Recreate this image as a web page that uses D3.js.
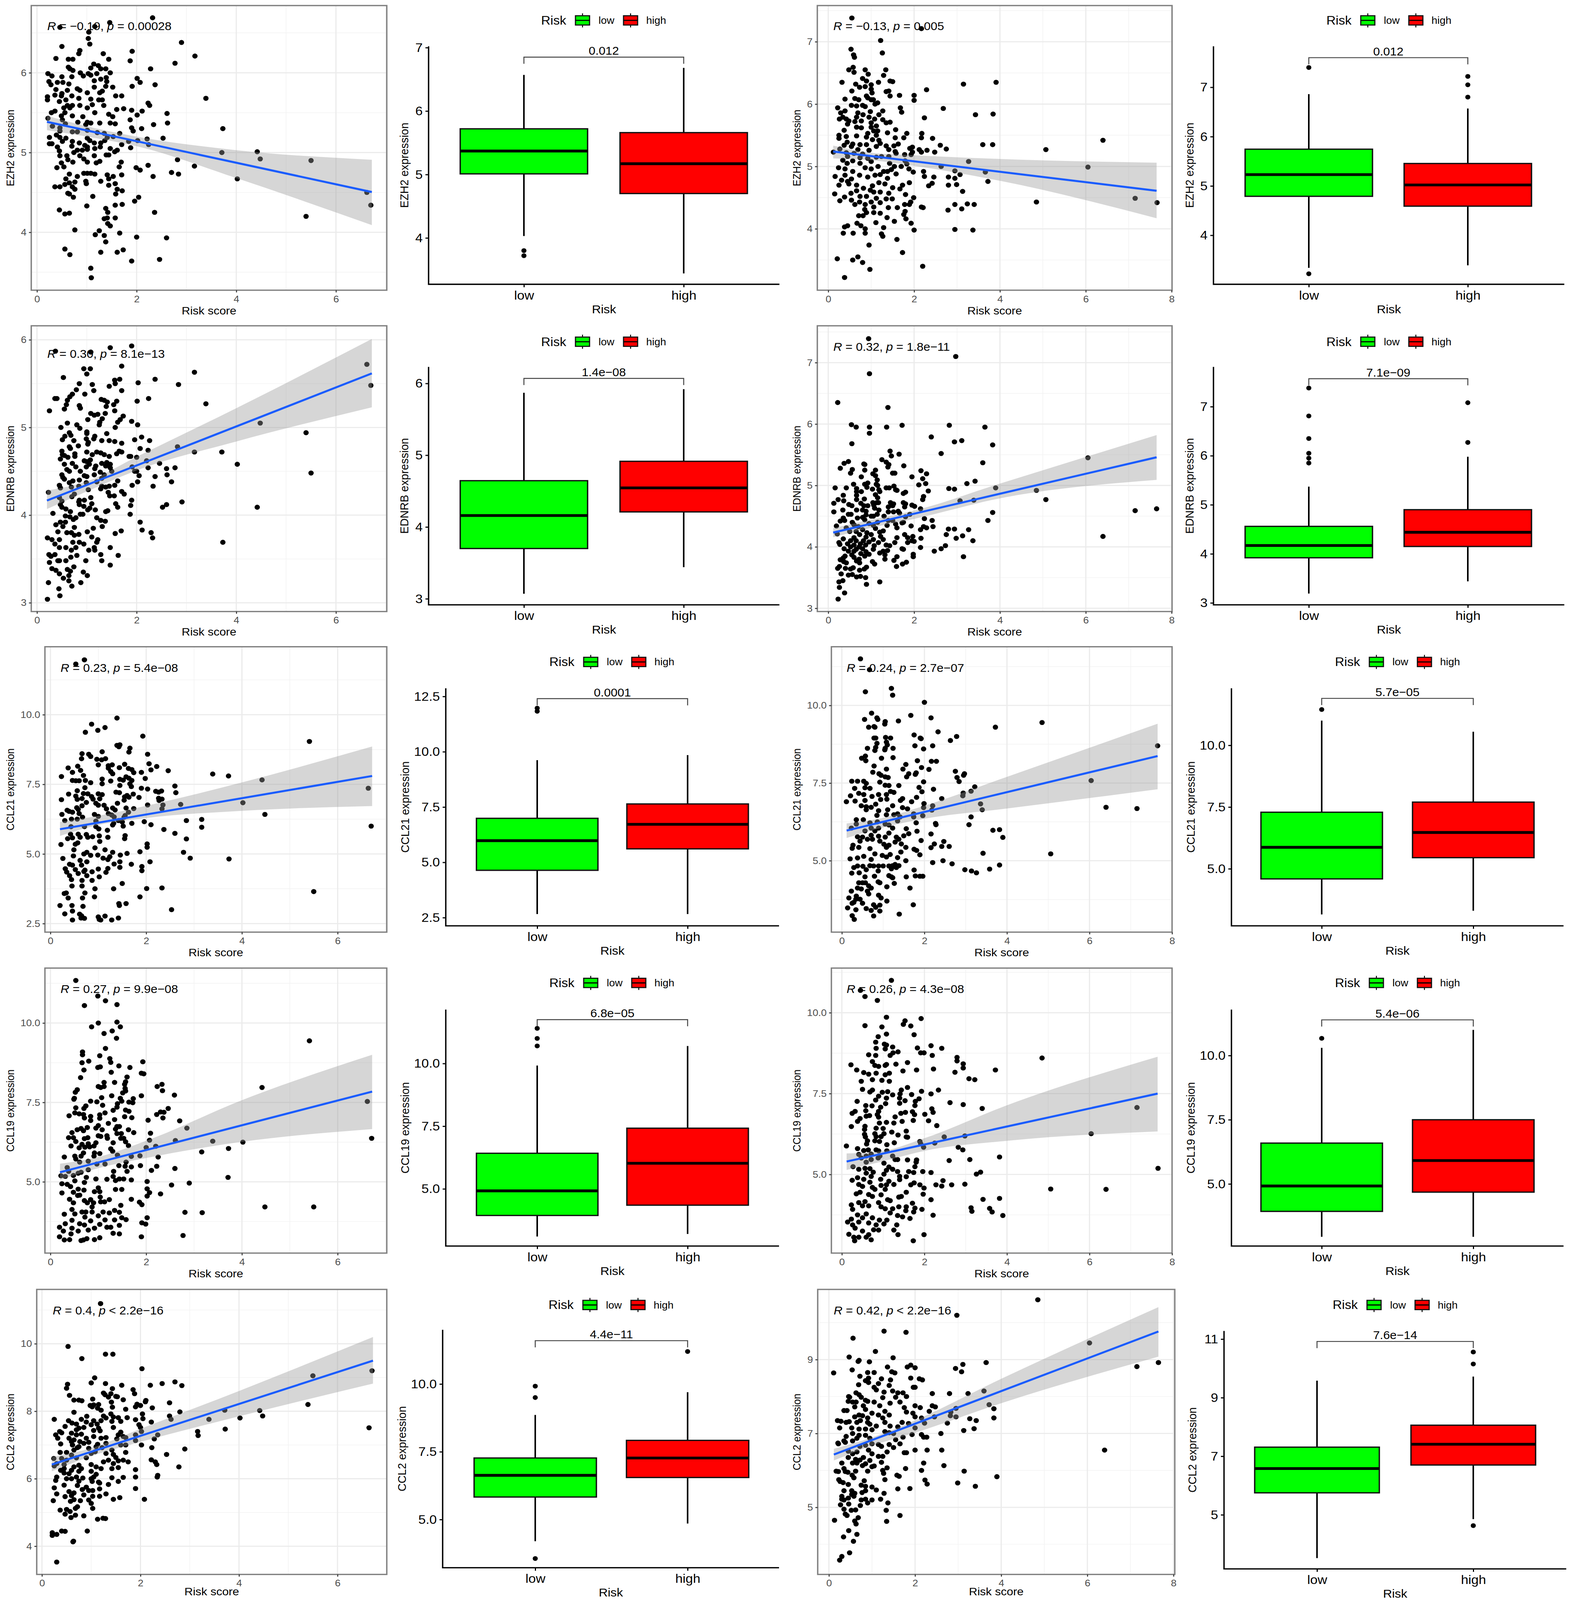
<!DOCTYPE html>
<html>
<head>
<meta charset="utf-8">
<script src="https://cdn.jsdelivr.net/npm/d3@7"></script>
<style>
  html, body { margin: 0; padding: 0; background: #fff; overflow: hidden; }
  svg { display: block; }
  text { font-family: "Liberation Sans", Arial, sans-serif; }
</style>
</head>
<body>
<svg id="fig" width="4016" height="4096" viewBox="0 0 4016 4317" preserveAspectRatio="none"></svg>
<script>
const riskLabels = ["low", "high"];
const trainCiX = [0.2, 1, 2, 4, 6.72];
const testCiX = [0.115, 1, 2, 4, 7.65];

const ezh2TrainPts = [[2.32,6.69],[1.46,6.63],[.46,6.57],[1.16,6.58],[1.04,6.51],[1.03,6.43],[1.06,6.36],[.5,6.33],[.86,6.28],[.84,6.24],[1.33,6.24],[1.91,6.27],[2.9,6.38],[3.17,6.21],[.38,6.18],[.63,6.17],[.72,6.17],[1.44,6.17],[1.87,6.15],[2.77,6.12],[1.14,6.11],[1.23,6.09],[2.28,6.05],[.63,6.07],[.66,6.05],[.72,6.03],[1.08,6.06],[1.28,6.05],[1.38,6.05],[1.47,6],[.22,5.99],[.3,5.96],[.87,6],[.93,5.96],[1.03,5.99],[1.2,5.99],[.5,5.95],[.7,5.95],[1.08,5.97],[1.39,5.94],[2.01,5.93],[1.28,5.92],[1.15,5.9],[1.4,5.89],[2.07,5.88],[.24,5.89],[.41,5.88],[.52,5.88],[.64,5.86],[.28,5.85],[2.37,5.85],[1.91,5.83],[1.15,5.82],[1.52,5.82],[1.38,5.83],[.38,5.79],[.81,5.8],[.61,5.78],[.86,5.78],[1.31,5.77],[.5,5.74],[1.01,5.75],[1.26,5.75],[.36,5.72],[.49,5.71],[.7,5.71],[1.58,5.71],[1.7,5.71],[.21,5.7],[.21,5.66],[.84,5.68],[1.08,5.67],[3.39,5.68],[.58,5.66],[.45,5.64],[1.24,5.66],[1.31,5.66],[2.23,5.62],[2.26,5.59],[1.11,5.6],[.61,5.59],[.71,5.59],[.86,5.59],[1.34,5.59],[.54,5.56],[.66,5.56],[1.01,5.56],[1.74,5.55],[1.6,5.54],[1.9,5.53],[2.11,5.52],[.36,5.52],[.29,5.5],[.56,5.5],[1.16,5.5],[2.61,5.49],[1.44,5.48],[2.01,5.47],[1.52,5.45],[.71,5.46],[.92,5.45],[.49,5.46],[.22,5.43],[.51,5.41],[1.87,5.41],[.82,5.38],[1.01,5.38],[1.08,5.37],[1.26,5.37],[1.47,5.37],[1.57,5.36],[2.62,5.37],[2.34,5.35],[.57,5.36],[.98,5.35],[.31,5.33],[1.9,5.31],[3.73,5.3],[2.1,5.3],[.46,5.31],[1.01,5.28],[1.93,5.27],[.46,5.27],[.71,5.26],[.81,5.26],[1.21,5.25],[1.35,5.24],[1.66,5.24],[.39,5.22],[.46,5.19],[.25,5.19],[.58,5.18],[1.01,5.18],[1.41,5.19],[1.53,5.2],[2.21,5.17],[2.53,5.18],[.51,5.14],[.71,5.14],[1.06,5.15],[1.36,5.15],[1.84,5.14],[2.02,5.15],[.25,5.11],[.3,5.11],[.85,5.12],[1.15,5.12],[1.28,5.12],[1.7,5.1],[2.24,5.1],[.7,5.08],[.41,5.07],[.96,5.09],[1.01,5.07],[1.27,5.07],[1.88,5.06],[1.16,5.05],[1.47,5.05],[1.61,5.03],[.81,5.03],[.91,5.03],[1.01,5.04],[.45,5.02],[4.42,5.01],[1.56,5.01],[3.71,5],[.74,5],[.46,4.96],[.6,4.96],[.86,4.96],[1.15,4.96],[1.39,4.97],[1.44,4.97],[4.48,4.92],[2.82,4.91],[5.5,4.9],[.62,4.91],[.72,4.88],[.94,4.92],[.49,4.87],[1.01,4.88],[1.26,4.89],[1.19,4.87],[1.69,4.88],[.4,4.81],[.54,4.82],[1.65,4.82],[2.23,4.84],[3.16,4.83],[1.99,4.81],[2.07,4.78],[2.7,4.75],[2.84,4.73],[.94,4.74],[1.01,4.74],[1.08,4.74],[1.16,4.73],[.65,4.73],[1.41,4.72],[1.7,4.72],[.81,4.7],[2.33,4.7],[1.53,4.7],[1.44,4.67],[4.02,4.67],[.58,4.67],[.98,4.64],[1.28,4.64],[.76,4.63],[.65,4.62],[.99,4.61],[1.57,4.61],[.36,4.57],[.46,4.57],[.56,4.6],[1.44,4.59],[.71,4.57],[.76,4.54],[1.61,4.54],[1.71,4.52],[6.62,4.5],[.62,4.49],[.65,4.48],[1.58,4.48],[2.04,4.44],[.73,4.44],[1.12,4.45],[1.96,4.39],[1.71,4.35],[6.7,4.34],[1,4.33],[1.57,4.34],[1.38,4.3],[.45,4.28],[1.42,4.25],[2.36,4.25],[.56,4.23],[.65,4.24],[5.4,4.2],[1.35,4.17],[1.41,4.18],[1.57,4.18],[1.42,4.11],[1.47,4.08],[.76,4.03],[1.25,4.02],[1.66,3.99],[1.17,3.97],[1.35,3.96],[2,3.94],[2.6,3.93],[1.38,3.88],[.56,3.79],[.66,3.72],[1.28,3.75],[1.73,3.78],[1.61,3.75],[2.46,3.66],[1.9,3.64],[1.08,3.55],[1.09,3.43]];

const ezh2TestPts = [[.55,7.38],[2.17,7.21],[1.22,7.02],[.53,6.88],[1.26,6.82],[.59,6.79],[.61,6.75],[.58,6.59],[.48,6.55],[.86,6.55],[1.34,6.55],[.6,6.51],[.93,6.48],[1.29,6.46],[.8,6.41],[.89,6.37],[1.44,6.37],[1.5,6.36],[.32,6.35],[1.17,6.35],[3.91,6.35],[3.15,6.32],[.64,6.32],[1,6.31],[.73,6.27],[.86,6.28],[1,6.24],[2.29,6.23],[.55,6.21],[1.35,6.2],[1.41,6.21],[1.02,6.18],[1.66,6.14],[2,6.14],[1.44,6.13],[.89,6.13],[.92,6.1],[.62,6.09],[2,6.06],[.71,6.07],[.39,6.08],[1,6.07],[1.05,6.07],[1.15,6.02],[1.09,6],[.54,5.98],[.66,5.97],[.8,5.98],[.86,5.96],[.22,5.94],[1.68,5.94],[2.68,5.93],[1.71,5.87],[.39,5.89],[1.27,5.89],[.98,5.88],[.29,5.86],[.69,5.86],[3.43,5.83],[3.84,5.84],[.81,5.83],[1.18,5.83],[.34,5.79],[.26,5.76],[.42,5.76],[2.24,5.78],[.66,5.79],[.95,5.79],[1.08,5.76],[1.27,5.75],[.48,5.73],[.62,5.72],[.77,5.73],[1,5.7],[1.44,5.71],[1.35,5.7],[.45,5.68],[1.12,5.65],[.66,5.63],[.77,5.62],[1,5.63],[1.57,5.59],[.37,5.58],[1.06,5.57],[1.15,5.57],[.92,5.53],[1.83,5.53],[2.18,5.53],[1.38,5.54],[.25,5.5],[1.12,5.5],[.66,5.49],[.42,5.48],[.89,5.47],[1.56,5.46],[1.76,5.46],[2.17,5.46],[2.43,5.45],[.25,5.45],[1.03,5.43],[1.18,5.42],[1.21,5.37],[.44,5.39],[.57,5.36],[.74,5.35],[.89,5.35],[1.63,5.36],[3.6,5.35],[3.83,5.35],[.37,5.34],[2.61,5.34],[1.12,5.32],[1.35,5.33],[1.53,5.33],[.54,5.32],[6.4,5.42],[5.07,5.27],[2.75,5.28],[1.96,5.31],[1.9,5.29],[.27,5.28],[2.12,5.27],[2.3,5.26],[1.41,5.27],[.69,5.27],[.95,5.26],[1.56,5.24],[.12,5.23],[1.96,5.23],[2.17,5.23],[2.48,5.23],[.42,5.22],[.6,5.21],[.8,5.2],[1.58,5.21],[1.93,5.19],[1.78,5.19],[.45,5.16],[1.12,5.15],[1.24,5.16],[1.41,5.16],[.74,5.14],[.92,5.13],[.34,5.1],[.57,5.09],[1.79,5.09],[3.27,5.08],[1,5.08],[.44,5.05],[1.43,5.05],[1.83,5.04],[.74,5.05],[2.63,5],[1.54,5],[1.7,5],[6.05,4.99],[.24,4.98],[1.16,5],[.86,4.98],[.39,4.96],[1.88,4.96],[1,4.96],[1.47,4.95],[2.95,4.93],[1.29,4.92],[1.38,4.92],[2.22,4.92],[1.98,4.91],[3.66,4.91],[.57,4.92],[1.58,4.88],[3.07,4.87],[.73,4.86],[.39,4.86],[1.09,4.86],[1.21,4.87],[.16,4.84],[2.24,4.84],[2.46,4.83],[2.8,4.83],[2.95,4.81],[.92,4.83],[1.38,4.81],[.54,4.8],[.31,4.78],[.45,4.76],[3.72,4.76],[1.18,4.74],[1.89,4.74],[2.42,4.73],[1.32,4.72],[.48,4.72],[2.8,4.7],[2.99,4.71],[.25,4.7],[1.73,4.7],[.66,4.7],[2.34,4.69],[1.03,4.69],[1.5,4.66],[.82,4.65],[1.67,4.64],[.98,4.62],[3.13,4.6],[.66,4.61],[1.21,4.59],[1.41,4.57],[.15,4.56],[.53,4.57],[1.8,4.55],[1.06,4.59],[.74,4.52],[.89,4.52],[.38,4.51],[1.99,4.5],[7.15,4.49],[1.12,4.49],[.54,4.46],[1.35,4.48],[1.49,4.48],[.27,4.45],[1,4.43],[4.85,4.43],[7.66,4.42],[1.92,4.43],[.73,4.43],[1.21,4.42],[1.78,4.39],[3.24,4.4],[3.4,4.39],[2.95,4.39],[1.89,4.39],[.62,4.39],[.86,4.39],[1.06,4.35],[2.17,4.35],[2.21,4.34],[1.61,4.34],[1.4,4.34],[3.11,4.32],[2.79,4.3],[.85,4.31],[1.79,4.28],[1.06,4.26],[1.21,4.25],[.89,4.26],[1.76,4.23],[.71,4.21],[.81,4.21],[1.37,4.18],[1.81,4.16],[1.54,4.12],[1.11,4.1],[.67,4.09],[1.93,4.09],[.76,4.05],[.45,4.05],[1.29,4.02],[.38,4.03],[.86,4],[2.95,3.99],[2,3.98],[3.37,3.98],[.86,3.93],[.35,3.93],[.58,3.93],[1.24,3.92],[1.27,3.88],[1.6,3.83],[.95,3.74],[1.73,3.62],[.69,3.55],[.21,3.52],[.57,3.5],[.8,3.46],[2.2,3.4],[.97,3.35],[.38,3.22]];

const ednrbTrainPts = [[1.9,5.93],[1.47,5.91],[.37,5.87],[1.08,5.86],[1.7,5.7],[.94,5.67],[1.07,5.67],[1,5.61],[3.16,5.63],[6.62,5.72],[6.7,5.48],[.53,5.57],[2.37,5.55],[1.66,5.55],[1.56,5.54],[2.03,5.51],[.85,5.5],[1.57,5.5],[2.84,5.49],[1.11,5.49],[1.45,5.47],[.79,5.43],[1.14,5.42],[1.7,5.42],[.71,5.38],[.96,5.38],[.66,5.35],[.36,5.33],[.4,5.33],[1.29,5.32],[2.24,5.33],[.61,5.31],[1.35,5.31],[1.41,5.29],[1.6,5.3],[2.01,5.3],[3.39,5.27],[.59,5.26],[1.54,5.26],[.85,5.25],[1.39,5.24],[.87,5.22],[.55,5.21],[1.56,5.19],[.25,5.19],[1.37,5.16],[1.08,5.16],[1.22,5.15],[1.15,5.14],[1.73,5.13],[1.67,5.09],[1.31,5.1],[1.02,5.09],[1.9,5.07],[1.62,5.06],[1.26,5.06],[1.25,5.03],[.61,5.05],[.8,5.03],[2.02,5.03],[4.48,5.05],[.48,5],[.86,4.99],[1.57,5],[1.0,4.95],[.65,4.94],[1.0,4.93],[.68,4.91],[1.4,4.93],[5.4,4.94],[.56,4.9],[1.16,4.9],[1.14,4.87],[2.1,4.89],[.99,4.87],[1.96,4.86],[.51,4.86],[.74,4.85],[1.3,4.85],[1.45,4.85],[1.56,4.84],[2.26,4.85],[1.03,4.83],[1.7,4.82],[1.02,4.81],[.83,4.79],[.65,4.78],[.67,4.76],[2.82,4.78],[2.07,4.76],[3.16,4.72],[3.71,4.72],[2.23,4.74],[1.0,4.72],[.5,4.73],[1.2,4.72],[1.28,4.71],[.76,4.7],[1.6,4.7],[1.7,4.72],[1.65,4.73],[1.11,4.69],[.51,4.69],[.55,4.68],[1.35,4.69],[1.45,4.67],[.62,4.66],[.76,4.67],[1.88,4.67],[2,4.66],[1.85,4.67],[.47,4.64],[.95,4.62],[1.0,4.61],[1.07,4.63],[2.2,4.62],[.71,4.59],[.55,4.58],[1.05,4.58],[1.3,4.59],[1.4,4.6],[1.47,4.58],[2.46,4.59],[4.02,4.58],[1.18,4.56],[.78,4.55],[.99,4.55],[1.38,4.56],[1.47,4.54],[1.91,4.55],[2.23,4.54],[2.77,4.54],[2.6,4.53],[1.16,4.53],[.6,4.52],[.87,4.5],[.65,4.5],[1.27,4.49],[1.5,4.5],[1.96,4.5],[2.0,4.5],[.5,4.46],[1.15,4.46],[1.35,4.46],[.95,4.45],[5.5,4.48],[2.05,4.45],[2.61,4.46],[1.0,4.44],[2.37,4.44],[.52,4.43],[1.3,4.42],[.55,4.41],[.72,4.39],[.85,4.4],[1.2,4.38],[1.62,4.39],[2.02,4.38],[2.7,4.38],[.65,4.37],[.99,4.37],[1.3,4.33],[1.45,4.33],[.45,4.34],[1.56,4.34],[1.91,4.34],[2.33,4.33],[.69,4.32],[.84,4.33],[1.28,4.3],[1.38,4.32],[1.03,4.29],[.47,4.31],[1.7,4.27],[1.43,4.26],[.75,4.24],[.23,4.26],[1.75,4.24],[1.46,4.22],[1.55,4.22],[.7,4.21],[.45,4.2],[1.08,4.2],[.85,4.17],[.5,4.16],[.95,4.17],[1.9,4.17],[.84,4.15],[2.91,4.15],[.47,4.12],[.85,4.12],[1.1,4.13],[1.58,4.13],[2.6,4.12],[1.88,4.11],[2.52,4.09],[.94,4.1],[1.06,4.08],[1.62,4.09],[4.42,4.09],[.5,4.09],[.58,4.07],[1.02,4.06],[1.17,4.06],[1.42,4.05],[1.38,4.04],[.67,4.04],[.32,4.02],[.87,4.01],[.92,4.01],[1.87,4.01],[.57,3.99],[.66,3.98],[.78,3.97],[1.2,3.97],[.73,3.95],[1.28,3.94],[1.37,3.93],[2.07,3.92],[.47,3.92],[.57,3.92],[.38,3.89],[1.31,3.87],[.52,3.87],[.75,3.86],[1.13,3.85],[2.11,3.83],[1.69,3.82],[1.01,3.81],[.42,3.81],[.6,3.8],[.69,3.8],[2.29,3.8],[1.57,3.79],[.84,3.78],[.75,3.77],[1.1,3.75],[.21,3.74],[2.32,3.74],[1.22,3.72],[.3,3.72],[.45,3.72],[3.73,3.69],[.85,3.69],[.72,3.69],[1.2,3.69],[.36,3.67],[.94,3.67],[.78,3.63],[.45,3.63],[.58,3.63],[1.15,3.63],[.69,3.6],[1.47,3.63],[1.04,3.6],[1.16,3.6],[1.28,3.55],[.24,3.55],[.36,3.55],[.28,3.53],[.8,3.54],[.68,3.52],[1.63,3.54],[.98,3.48],[.42,3.48],[.45,3.48],[.58,3.48],[1.3,3.48],[.25,3.46],[1.47,3.43],[.74,3.41],[.3,3.39],[.61,3.38],[.38,3.37],[.67,3.36],[.93,3.35],[.45,3.33],[1.01,3.31],[.64,3.31],[.53,3.28],[.64,3.25],[.88,3.23],[.23,3.23],[.7,3.19],[.44,3.16],[.46,3.08],[.21,3.04]];

const ednrbTestPts = [[.94,7.39],[2.97,7.1],[.96,6.82],[.22,6.35],[1.39,6.27],[.54,5.99],[.65,5.95],[.96,5.95],[1.36,5.95],[1.72,5.98],[2.82,5.98],[3.65,5.95],[.96,5.85],[2.4,5.79],[3.11,5.73],[2.94,5.71],[.55,5.68],[3.83,5.66],[1.44,5.56],[1.65,5.51],[2.63,5.52],[1.47,5.48],[6.05,5.45],[1.25,5.42],[1.35,5.38],[.47,5.39],[.37,5.36],[.83,5.35],[.85,5.34],[3.6,5.37],[1.41,5.34],[1.76,5.32],[1.39,5.3],[.28,5.28],[.56,5.26],[.85,5.25],[1.1,5.25],[2.16,5.24],[.52,5.2],[1.5,5.2],[1.55,5.2],[1.04,5.19],[2.29,5.19],[1.1,5.16],[1.95,5.14],[.77,5.14],[2.2,5.11],[1.14,5.09],[3.42,5.07],[2.11,5.01],[3.23,5.03],[2.27,5.03],[.59,5.02],[.85,5.02],[.92,5.04],[1.12,5.02],[1.15,5],[.9,4.97],[1.53,4.99],[.16,4.96],[.42,4.96],[.66,4.95],[1.35,4.96],[1.42,4.96],[1.57,4.93],[1.6,4.92],[2.81,4.95],[2.94,4.94],[3.9,4.96],[1.18,4.93],[1.03,4.94],[.66,4.9],[.77,4.9],[1.2,4.9],[1.75,4.87],[1.8,4.89],[.35,4.84],[.66,4.84],[1.1,4.85],[2.33,4.91],[4.85,4.92],[1.15,4.8],[.23,4.77],[.36,4.75],[.66,4.77],[.84,4.78],[5.07,4.77],[3.07,4.75],[3.39,4.76],[2.2,4.77],[2.22,4.82],[.13,4.71],[.48,4.69],[.76,4.71],[1.04,4.72],[1.13,4.72],[1.17,4.72],[1.45,4.72],[1.52,4.7],[1.75,4.72],[1.8,4.7],[1.95,4.68],[.55,4.67],[.83,4.67],[.92,4.67],[1.06,4.68],[1.4,4.65],[1.5,4.67],[1.78,4.65],[2.01,4.66],[.13,4.57],[.34,4.6],[.66,4.6],[.8,4.6],[.88,4.58],[1.08,4.63],[1.18,4.6],[1.4,4.57],[1.52,4.57],[1.63,4.58],[1.66,4.55],[2.15,4.62],[.47,4.53],[.53,4.53],[.88,4.52],[1.14,4.53],[1.9,4.53],[3.83,4.56],[7.15,4.59],[7.65,4.62],[.35,4.47],[.68,4.47],[.8,4.48],[1.0,4.5],[1.05,4.5],[1.3,4.5],[1.8,4.49],[2.24,4.46],[.38,4.43],[.56,4.4],[.28,4.42],[.85,4.44],[1.4,4.43],[1.5,4.43],[1.75,4.4],[2.42,4.43],[3.72,4.43],[.6,4.36],[.7,4.33],[.95,4.38],[1.05,4.35],[1.15,4.4],[1.37,4.35],[1.57,4.37],[1.72,4.39],[1.93,4.34],[2.44,4.33],[2.22,4.33],[2.29,4.31],[.19,4.34],[.42,4.31],[.8,4.28],[1.1,4.3],[1.6,4.31],[2.15,4.28],[2.8,4.29],[2.94,4.29],[3.27,4.28],[.65,4.25],[.9,4.23],[1.28,4.26],[1.2,4.24],[.21,4.21],[.5,4.25],[1.0,4.2],[.73,4.2],[1.78,4.2],[1.85,4.15],[2.75,4.2],[3.13,4.18],[1.97,4.17],[.35,4.13],[.6,4.15],[.88,4.16],[1.22,4.17],[1.6,4.15],[2.16,4.14],[6.4,4.17],[2.98,4.14],[.52,4.1],[.65,4.1],[.82,4.1],[1.05,4.12],[1.28,4.12],[1.85,4.07],[1.95,4.1],[2,4.09],[3.37,4.1],[.25,4.07],[.45,4.05],[.75,4.05],[.95,4.08],[1.17,4.07],[1.55,4.07],[.27,4.04],[.6,4.03],[1.35,4.03],[1.43,4.02],[.52,4],[.72,4],[.87,4.03],[1.07,4.02],[2.15,3.99],[2.63,3.97],[2.73,4.02],[.37,3.97],[.65,3.96],[.8,3.97],[1.05,3.96],[1.72,3.97],[1.75,3.96],[.47,3.93],[.6,3.93],[.88,3.92],[1.28,3.93],[1.38,3.94],[2.47,3.93],[.76,3.89],[.95,3.88],[1.2,3.9],[1.32,3.87],[.39,3.85],[.55,3.87],[.85,3.85],[1.98,3.88],[1.6,3.84],[3.15,3.84],[1.98,3.84],[.35,3.82],[.6,3.83],[1.32,3.8],[.72,3.8],[.28,3.79],[.36,3.76],[1.53,3.78],[.66,3.77],[.42,3.74],[1.03,3.76],[.73,3.74],[1.82,3.75],[1.08,3.72],[1.73,3.72],[.26,3.68],[.22,3.65],[.4,3.65],[.52,3.64],[.58,3.66],[.84,3.64],[.89,3.67],[1.59,3.68],[.73,3.62],[.3,3.56],[.47,3.54],[.56,3.55],[.66,3.51],[.75,3.52],[.87,3.5],[.34,3.45],[.25,3.43],[1.2,3.43],[.89,3.39],[.26,3.34],[.38,3.25],[.23,3.15]];

const ccl21TrainPts = [[.71,11.97],[.53,11.82],[1.39,9.88],[.86,9.66],[1.14,9.54],[.99,9.44],[.73,9.37],[1.93,9.23],[5.41,9.04],[1.39,8.9],[1.43,8.85],[1.45,8.92],[1.66,8.8],[1.64,8.66],[1.08,8.67],[.66,8.6],[.8,8.58],[2.03,8.58],[.84,8.5],[.65,8.42],[.97,8.4],[1.15,8.42],[1.07,8.38],[2.06,8.24],[1.29,8.2],[1.0,8.2],[1.55,8.22],[1.21,8.17],[.57,8.15],[1.44,8.1],[.37,8.09],[2.22,8.14],[1.63,8.07],[1.21,8.08],[1.7,8.03],[2.1,8.02],[.63,8],[2.46,7.99],[1.26,7.96],[.46,7.93],[1.74,7.92],[1.9,7.93],[1.3,7.88],[3.39,7.87],[.69,7.82],[3.72,7.8],[.23,7.78],[1.58,7.77],[1.64,7.72],[1.98,7.71],[1.08,7.69],[.46,7.64],[.53,7.63],[.6,7.63],[.73,7.64],[1.26,7.62],[1.45,7.68],[1.52,7.65],[1.7,7.64],[4.42,7.66],[.84,7.56],[1.08,7.52],[1.66,7.52],[1.45,7.46],[2.6,7.44],[.72,7.38],[1.69,7.42],[1.9,7.36],[2.03,7.33],[6.64,7.36],[.56,7.27],[2.32,7.26],[2.2,7.25],[2.26,7.22],[1.37,7.22],[.78,7.16],[.38,7.15],[.69,7.17],[1.0,7.16],[1.08,7.13],[1.44,7.2],[1.6,7.1],[1.73,7.15],[2.62,7.2],[.53,7.08],[.86,7.06],[1.55,7.05],[1.64,7.04],[.56,6.96],[.23,6.95],[.66,6.99],[.89,6.97],[1.03,6.98],[1.85,7.03],[2.26,7.0],[1.54,6.93],[2.33,6.97],[.75,6.85],[.95,6.82],[1.4,6.82],[2.27,6.92],[1.12,6.75],[2.35,6.76],[2.72,6.78],[2.03,6.76],[4.02,6.84],[1.0,6.75],[.66,6.73],[.55,6.66],[.35,6.57],[1.3,6.65],[1.17,6.62],[1.35,6.58],[1.58,6.65],[1.74,6.63],[2.33,6.62],[.39,6.53],[.58,6.6],[.46,6.5],[1.63,6.5],[1.21,6.45],[1.28,6.4],[.6,6.45],[4.48,6.42],[1.56,6.38],[.24,6.42],[.92,6.42],[1.0,6.35],[1.33,6.33],[.67,6.32],[1.54,6.32],[.44,6.25],[.56,6.25],[.3,6.2],[2.84,6.2],[3.16,6.24],[.95,6.18],[1.42,6.2],[1.96,6.16],[1.5,6.15],[1.32,6.1],[1.7,6.1],[2.1,6.05],[1.3,6.04],[.43,5.98],[.71,5.98],[.95,5.98],[1.52,6.0],[3.16,5.96],[6.7,6.0],[1.01,5.9],[2.37,5.88],[1.19,5.85],[.42,5.71],[.58,5.71],[.75,5.7],[1.02,5.65],[1.56,5.66],[2.6,5.74],[.36,5.55],[.46,5.58],[.62,5.6],[.78,5.6],[.88,5.62],[1.2,5.6],[1.55,5.55],[2.84,5.54],[.57,5.4],[1.03,5.45],[.22,5.34],[.52,5.35],[2.02,5.36],[2.02,5.24],[.93,5.22],[.49,5.15],[1.14,5.15],[.76,5.06],[1.3,5.06],[1.87,5.08],[2.78,5.06],[1.6,5.02],[.7,5],[.48,4.93],[.99,4.96],[1.24,4.9],[1.46,4.96],[.26,4.84],[.84,4.95],[1.1,4.85],[2.92,4.85],[3.73,4.82],[.62,4.77],[1.2,4.8],[.76,4.72],[.4,4.63],[1.33,4.64],[1.45,4.72],[1.69,4.63],[2.08,4.72],[.46,4.6],[.65,4.6],[.72,4.42],[1.2,4.48],[1.45,4.52],[.31,4.47],[.52,4.44],[1.0,4.46],[1.91,4.55],[1.91,4.4],[.34,4.35],[.7,4.37],[.87,4.36],[1.16,4.34],[.58,4.3],[.76,4.22],[.4,4.22],[1.02,4.18],[.44,4.08],[.66,4.05],[.87,4.05],[1.5,3.94],[.45,3.85],[.66,3.85],[.93,3.75],[1.32,3.75],[2.01,3.76],[2.33,3.78],[.33,3.6],[.29,3.58],[.72,3.6],[1.87,3.46],[.92,3.46],[.37,3.42],[.67,3.42],[1.43,3.22],[1.44,3.15],[1.58,3.22],[.2,3.15],[.45,3.15],[.68,3.12],[5.5,3.65],[2.53,3.0],[.46,2.95],[.3,2.85],[.61,2.84],[.65,2.78],[.64,2.7],[.71,2.69],[1.0,2.74],[1.14,2.77],[1.42,2.7],[.46,2.63],[1.02,2.65],[1.05,2.63],[1.28,2.63]];

const ccl21TestPts = [[.45,11.5],[.67,11.15],[1.2,10.55],[.57,10.44],[1.23,10.33],[2.0,10.1],[.72,9.75],[.85,9.6],[.87,9.55],[.55,9.55],[1.05,9.48],[1.37,9.5],[1.67,9.68],[2.16,9.6],[4.85,9.45],[.65,9.3],[.78,9.32],[.8,9.3],[1.04,9.4],[3.72,9.3],[2.33,9.15],[1.75,9.05],[2.78,9.0],[1.9,8.95],[1.92,8.93],[.78,8.95],[.82,8.95],[1.06,8.97],[1.18,8.95],[2.63,8.87],[1.08,8.82],[.85,8.78],[1.1,8.73],[1.77,8.7],[2.2,8.7],[7.65,8.7],[.82,8.65],[1.24,8.62],[1.98,8.6],[.62,8.62],[1.05,8.62],[.8,8.55],[1.04,8.57],[.57,8.37],[1.24,8.32],[.48,8.3],[.96,8.3],[.58,8.22],[1.83,8.22],[2.17,8.2],[2.29,8.2],[.78,8.05],[1.55,8.1],[1.93,8.0],[1.08,7.95],[1.48,7.95],[2.11,7.94],[2.75,7.88],[.75,7.85],[.9,7.8],[1.8,7.83],[1.78,7.78],[1.62,7.8],[1.57,7.7],[2.97,7.8],[2.95,7.75],[.95,7.75],[1.05,7.7],[1.12,7.68],[2.79,7.68],[2.84,7.55],[.24,7.56],[.38,7.56],[.53,7.56],[6.04,7.58],[.59,7.49],[.31,7.33],[.56,7.35],[.68,7.33],[.92,7.53],[1.05,7.43],[1.14,7.42],[1.38,7.42],[1.98,7.54],[1.87,7.36],[2.22,7.3],[1.94,7.22],[3.22,7.38],[3.13,7.24],[2.94,7.18],[2.93,7.09],[.21,7.09],[.41,7.17],[.53,7.13],[.73,7.07],[.89,7.13],[1.08,7.13],[1.26,7.2],[1.18,7.23],[1.81,7.04],[.32,6.92],[.11,6.9],[.56,6.94],[1.09,6.98],[.94,6.97],[1.42,6.94],[1.47,7.0],[1.69,6.9],[2.42,7.0],[1.99,6.84],[3.36,6.83],[.47,6.77],[.59,6.74],[.71,6.72],[.82,6.82],[1.23,6.77],[1.47,6.71],[1.98,6.71],[2.2,6.77],[2.18,6.63],[3.4,6.64],[6.4,6.72],[7.15,6.68],[.59,6.64],[.89,6.61],[1.11,6.64],[1.59,6.67],[1.35,6.51],[1.08,6.48],[.85,6.46],[1.74,6.51],[3.13,6.41],[1.74,6.41],[1.41,6.41],[1.26,6.48],[1.96,6.45],[.35,6.32],[.52,6.32],[.68,6.22],[1.35,6.28],[1.8,6.22],[.35,6.18],[.86,6.25],[1.05,6.18],[1.14,6.15],[2.27,6.2],[2.28,6.16],[3.08,6.16],[.23,6.05],[1.23,6.05],[1.56,6.03],[.71,6.05],[.89,6.05],[.56,5.96],[.8,5.96],[1.82,5.95],[3.66,5.98],[3.82,6.0],[2.16,5.86],[1.14,5.89],[1.62,5.87],[1.5,5.8],[.38,5.77],[.71,5.82],[.89,5.79],[1.05,5.76],[.5,5.76],[3.9,5.75],[1.32,5.76],[.62,5.69],[.74,5.69],[1.38,5.69],[1.92,5.65],[.44,5.63],[.92,5.63],[2.47,5.62],[1.29,5.6],[1.44,5.54],[2.24,5.54],[1.02,5.53],[1.14,5.5],[.27,5.5],[2.42,5.46],[2.6,5.46],[1.55,5.43],[2.16,5.42],[.41,5.43],[.25,5.4],[.68,5.39],[1.08,5.43],[1.75,5.37],[1.81,5.33],[1.43,5.28],[3.42,5.24],[5.06,5.22],[.8,5.22],[.98,5.17],[1.17,5.2],[1.89,5.19],[.2,5.06],[.38,5.09],[.53,5.14],[.71,5.04],[1.08,5.12],[1.35,5.1],[1.55,5],[2.45,5],[2.67,4.9],[2.2,4.94],[2.98,4.71],[3.14,4.67],[3.26,4.61],[3.58,4.73],[3.82,4.86],[1.75,4.7],[1.78,4.51],[1.89,4.5],[1.96,4.5],[1.56,4.48],[1.65,4.12],[1.73,3.58],[1.39,3.28],[1.09,4.16],[1.09,3.7],[1.27,4.27],[1.2,4.48],[1.14,4.52],[1.23,4.45],[.88,4.67],[.79,4.5],[.88,4.32],[.92,4.29],[.24,4.6],[.29,4.78],[.38,4.83],[.42,4.61],[.51,4.82],[.59,4.71],[.68,4.84],[.77,4.83],[.89,4.83],[1,4.83],[1.14,4.83],[1.23,4.84],[1.29,4.88],[1.38,4.84],[1.2,4.74],[1.32,4.78],[.56,4.48],[.5,4.29],[.41,4.29],[.57,4.29],[.65,4.19],[.71,4.12],[.62,4.02],[.65,3.93],[.47,4.09],[.38,4.12],[.23,4.02],[.17,3.8],[.35,3.86],[.25,3.63],[.34,3.76],[.44,3.76],[.5,3.63],[.29,3.66],[.14,3.48],[.34,3.42],[.59,3.46],[.71,3.4],[.77,3.58],[.82,3.5],[.92,3.57],[.92,3.38],[.89,3.89],[.95,3.8],[.77,3.22],[.25,3.23],[.3,3.11]];

const ccl19TrainPts = [[.53,11.34],[.99,10.85],[1.15,10.7],[1.39,10.58],[.71,10.55],[1.39,10.03],[1,10],[.86,9.88],[1.46,9.88],[1.29,9.75],[1.12,9.67],[1.38,9.52],[5.41,9.44],[1.15,9.2],[.67,9.09],[.67,9],[1.03,8.97],[1.24,8.88],[.66,8.75],[.8,8.8],[1.93,8.78],[1.26,8.76],[1.43,8.65],[.99,8.6],[1.04,8.62],[1.66,8.6],[.7,8.52],[1.27,8.45],[.63,8.28],[1.9,8.42],[1.95,8.4],[1.6,8.3],[1.57,8.15],[1.12,8.13],[1.34,8.13],[2.33,8.07],[2.23,8],[.56,7.9],[2.34,7.87],[.52,7.82],[1.51,7.8],[4.42,7.97],[1,8],[1.05,7.97],[1.12,8],[1.55,8.07],[1.56,7.94],[1.57,7.86],[2.59,7.73],[1.9,7.71],[1.28,7.71],[1.73,7.62],[1.46,7.63],[1.07,7.65],[.5,7.63],[.49,7.6],[.84,7.54],[.97,7.52],[1.49,7.54],[1.64,7.51],[1.72,7.49],[1.4,7.46],[1.09,7.41],[.74,7.39],[.7,7.31],[.53,7.33],[1.39,7.35],[1.31,7.25],[2.46,7.31],[1.57,7.26],[1.64,7.22],[.51,7.17],[.6,7.14],[1.14,7.17],[1.03,7.11],[2.22,7.12],[2.3,7.2],[2.37,7.19],[2.35,7.01],[.39,7.08],[.69,7.12],[1.55,7.05],[1.7,7.02],[.71,7.01],[.84,7.06],[1.03,7],[.84,6.93],[1.34,6.96],[2.04,6.94],[2.7,6.92],[1,6.77],[1.21,6.84],[.77,6.71],[.95,6.69],[1.08,6.64],[1.39,6.74],[1.36,6.66],[1.44,6.74],[1.63,6.64],[2.85,6.69],[.45,6.55],[.56,6.64],[.64,6.68],[.69,6.61],[1.39,6.52],[1.48,6.52],[1.74,6.55],[2.09,6.53],[.38,6.39],[.48,6.39],[.71,6.36],[.78,6.39],[1,6.45],[1.05,6.43],[1.18,6.45],[1.19,6.37],[1.47,6.37],[1.53,6.37],[.53,6.27],[2.07,6.31],[1.57,6.26],[3.39,6.28],[2.61,6.3],[4.02,6.25],[1.31,6.23],[.95,6.23],[.66,6.18],[.79,6.2],[.43,6.13],[1.63,6.14],[.72,6.09],[.82,6.1],[.91,6.13],[.6,6.07],[2,6.08],[2.2,6.12],[1.26,6.04],[1.3,5.96],[3.72,6.05],[3.16,5.94],[.92,5.91],[1.03,5.89],[.69,5.91],[.91,5.81],[.64,5.81],[1.4,5.84],[.51,5.81],[.29,5.78],[1.69,5.8],[1.87,5.82],[2.25,5.78],[.53,5.72],[.79,5.65],[.61,5.62],[1.58,5.62],[.97,5.56],[1.14,5.56],[1.43,5.51],[1.88,5.51],[2.22,5.49],[1.56,5.49],[1.69,5.47],[.35,5.45],[.79,5.38],[2.6,5.42],[2.11,5.36],[1.32,5.33],[1.6,5.33],[.38,5.33],[.64,5.3],[.22,5.19],[.31,5.17],[.48,5.2],[.58,5.27],[.75,5.14],[1.31,5.17],[3.71,5.14],[.95,5.09],[1.18,5.08],[1.36,5.04],[1.44,5.09],[1.53,5.09],[1.69,5.06],[2.02,5.01],[.51,5.03],[.71,4.98],[.24,4.94],[.35,4.92],[2.9,4.96],[2.53,4.9],[.42,4.85],[2.02,4.78],[.58,4.77],[1.36,4.76],[1.49,4.76],[.7,4.74],[1,4.81],[.92,4.69],[1.03,4.69],[.48,4.67],[.24,4.65],[2.07,4.66],[2.3,4.62],[2.02,4.55],[.61,4.58],[.57,4.57],[1.04,4.52],[.4,4.45],[1.69,4.45],[1.23,4.44],[.71,4.41],[.84,4.44],[.48,4.34],[.77,4.34],[.9,4.34],[1.05,4.37],[1.13,4.37],[1.86,4.36],[1.91,4.28],[1.47,4.26],[.87,4.21],[4.48,4.21],[5.5,4.21],[.45,4.13],[1.34,4.1],[.66,4.05],[.74,4.05],[.87,4.05],[1.1,4.05],[1.23,4.02],[1.44,4.04],[2.81,4.04],[3.17,4.03],[.29,3.98],[.51,3.99],[1,3.93],[.72,3.89],[1.49,3.87],[1.58,3.81],[2.02,3.87],[.84,3.77],[1.14,3.8],[1.34,3.8],[.45,3.79],[.61,3.68],[.31,3.68],[1.03,3.66],[1.91,3.71],[1.99,3.67],[.71,3.64],[1.18,3.57],[1.44,3.63],[.45,3.54],[.19,3.57],[.27,3.45],[.92,3.54],[1.26,3.57],[.58,3.45],[.79,3.48],[.43,3.36],[1.31,3.38],[1.44,3.36],[.19,3.27],[1.9,3.27],[2.77,3.31],[1.03,3.24],[.76,3.21],[.92,3.18],[.29,3.17],[.4,3.18],[.64,3.15],[.69,3.17],[6.62,7.53],[6.71,6.37]];

const ccl19TestPts = [[1.2,11],[.45,10.69],[.56,10.5],[.86,10.38],[1.08,9.86],[1.92,9.82],[1.53,9.75],[1.49,9.64],[1.67,9.59],[.56,9.6],[.97,9.56],[1.08,9.34],[1.75,9.32],[.88,9.26],[.82,9.09],[1.03,9.03],[1.08,9],[1.23,8.94],[.83,8.9],[1.05,8.88],[2.16,8.98],[2.42,8.9],[1.83,8.91],[1.36,8.79],[1.91,8.76],[1.99,8.76],[2.19,8.68],[.65,8.7],[.82,8.68],[1.17,8.68],[1.24,8.76],[.74,8.49],[.8,8.37],[.89,8.34],[1.08,8.4],[4.85,8.6],[2.79,8.62],[2.79,8.51],[2.94,8.42],[2.94,8.29],[2.74,8.16],[3.08,7.96],[3.22,7.93],[3.72,8.23],[2.22,8.26],[1.81,8.23],[1.48,8.2],[1.59,8.46],[1.31,8.41],[1.05,8.37],[.22,8.39],[.36,8.23],[.53,8.15],[.65,8.1],[.83,8.13],[1.05,8.08],[1.15,8.13],[.47,7.88],[.74,7.93],[.97,7.91],[1.15,7.88],[2.34,7.61],[1.93,7.57],[1.59,7.69],[1.44,7.61],[1.41,7.49],[1.69,7.47],[2.16,7.49],[1.11,7.56],[.98,7.54],[.5,7.63],[.74,7.61],[.68,7.55],[1.23,7.46],[.89,7.42],[1.4,7.36],[1.08,7.36],[.82,7.3],[1.87,7.34],[1.53,7.28],[.37,7.26],[1.78,7.26],[1.4,7.2],[2.62,7.22],[2.94,7.16],[1.06,7.19],[1.77,7.13],[.58,7.13],[.73,7.12],[.94,7.08],[7.15,7.07],[3.4,7.04],[2.18,7.03],[.58,6.97],[.32,6.95],[.25,6.89],[.89,6.95],[1.43,6.89],[1.54,6.92],[1.71,6.94],[2.21,6.92],[.86,6.85],[2.01,6.86],[.59,6.8],[.67,6.82],[.44,6.73],[1.76,6.85],[1.29,6.78],[.89,6.77],[1.46,6.64],[1.73,6.67],[2.1,6.66],[.38,6.64],[1.08,6.61],[.91,6.59],[1.26,6.59],[.23,6.48],[2.3,6.51],[.56,6.49],[1,6.42],[.83,6.43],[1.21,6.31],[1.56,6.34],[.55,6.39],[6.04,6.26],[.55,6.24],[.8,6.26],[1.02,6.26],[1.36,6.22],[.57,6.16],[.83,6.17],[.95,6.17],[2.48,6.16],[2.98,6.19],[1.56,6.16],[1.59,6.15],[.62,6.04],[.8,6.04],[.91,6.02],[1.89,6.02],[1.91,5.95],[1.27,5.98],[2.25,5.97],[1.09,5.92],[.6,5.94],[.11,5.88],[.38,5.8],[1.98,5.84],[2.82,5.84],[2.93,5.76],[.53,5.74],[.64,5.76],[.83,5.76],[.89,5.73],[1.09,5.73],[.71,5.63],[.41,5.62],[.92,5.57],[.47,5.51],[.59,5.57],[1.23,5.57],[3.82,5.54],[.71,5.46],[.88,5.51],[1.29,5.46],[1.59,5.45],[1.81,5.45],[1.35,5.46],[3.1,5.46],[2.6,5.43],[.59,5.38],[1.8,5.38],[1.02,5.35],[.27,5.24],[1.77,5.24],[1.14,5.23],[.41,5.16],[.56,5.19],[.68,5.18],[1.08,5.13],[1.23,5.16],[7.66,5.19],[1.35,5.09],[.76,5.07],[1.62,5.09],[1.74,5.06],[1.96,5.09],[2.16,5.06],[3.36,5.07],[3.26,5.01],[1.02,5.01],[.59,5.04],[.71,4.94],[1.4,4.94],[1.56,4.93],[.38,4.9],[.53,4.85],[.94,4.85],[.25,4.82],[1.4,4.84],[2.45,4.81],[.68,4.76],[1.14,4.79],[1.67,4.68],[1.75,4.74],[1.89,4.68],[2.28,4.68],[2.42,4.64],[2.66,4.68],[2.98,4.7],[.41,4.69],[.5,4.63],[.95,4.66],[1.08,4.68],[1.26,4.69],[.74,4.6],[.8,4.54],[1.05,4.54],[1.99,4.58],[5.06,4.55],[6.4,4.54],[.44,4.45],[1.56,4.45],[.35,4.4],[.65,4.38],[.95,4.37],[1.97,4.39],[.74,4.32],[1.38,4.3],[1.44,4.32],[2.16,4.22],[3.42,4.23],[3.82,4.26],[1.11,4.22],[1.17,4.19],[.23,4.06],[.41,4.13],[.56,4.16],[.89,4.13],[1.71,4.11],[.5,4.03],[.65,4.03],[.95,4],[1.38,4],[1.56,4],[3.13,3.97],[.26,3.92],[1.05,3.94],[1.23,3.94],[1.77,3.96],[1.94,3.92],[3.58,3.95],[3.15,3.86],[3.64,3.84],[1.55,3.88],[1.74,3.84],[1.17,3.81],[.38,3.75],[.59,3.78],[1.35,3.73],[2.21,3.74],[3.9,3.73],[1.47,3.69],[.5,3.66],[.74,3.66],[1.65,3.64],[.23,3.62],[.91,3.59],[1.09,3.59],[.14,3.53],[.41,3.53],[.65,3.5],[1.02,3.47],[.26,3.44],[1.33,3.44],[.83,3.44],[.32,3.34],[.5,3.25],[.77,3.29],[.89,3.28],[1.26,3.28],[.17,3.15],[1.36,3.14],[1.99,3.14],[.41,3.06],[.65,3.14],[.59,3.06],[.29,3.06],[.71,2.98],[.31,2.95],[1.73,2.95]];

const ccl2TrainPts = [[1.19,11.19],[.53,9.92],[1.29,9.69],[1.44,9.69],[.81,9.56],[2.03,9.26],[5.5,9.05],[6.7,9.2],[1.07,8.99],[1,8.84],[.52,8.8],[1.29,8.82],[1.62,8.77],[2.44,8.82],[2.7,8.87],[2.84,8.76],[2.2,8.77],[.5,8.68],[1.43,8.67],[1.85,8.64],[1.88,8.52],[1.25,8.54],[1.4,8.52],[.56,8.47],[1.5,8.44],[1.28,8.49],[1.35,8.42],[1.53,8.43],[1.03,8.36],[.65,8.33],[.75,8.33],[.81,8.31],[1.65,8.34],[2.11,8.32],[2.1,8.28],[2.59,8.25],[1.41,8.27],[1.93,8.21],[.98,8.17],[1.05,8.19],[1.15,8.2],[1.02,8.13],[1.43,8.12],[1.9,8.13],[2.0,8.17],[5.4,8.2],[1.13,8.09],[2.24,8.1],[1.7,8.06],[1.2,8.03],[.65,7.97],[2.8,7.98],[3.71,8.03],[4.42,8.02],[1.4,7.92],[2.04,7.92],[1.45,7.83],[.91,7.85],[1.25,7.86],[1.3,7.8],[1.55,7.81],[1.73,7.81],[2.59,7.86],[4.48,7.86],[.25,7.76],[.54,7.72],[.8,7.76],[1.05,7.72],[1.2,7.72],[1.42,7.7],[1.6,7.7],[1.9,7.75],[2.05,7.78],[2.62,7.76],[3.39,7.76],[4.02,7.8],[.9,7.68],[.61,7.65],[.7,7.62],[2.22,7.68],[1.0,7.6],[1.12,7.62],[1.97,7.6],[.47,7.55],[.75,7.5],[.85,7.52],[1.45,7.52],[1.15,7.5],[2.0,7.52],[3.72,7.47],[6.64,7.51],[.7,7.45],[1.05,7.43],[1.18,7.42],[2.02,7.4],[3.16,7.4],[.36,7.4],[.4,7.36],[.6,7.35],[.7,7.3],[1.6,7.38],[1.55,7.3],[1.9,7.3],[2.35,7.3],[3.17,7.28],[.28,7.3],[.8,7.32],[1.65,7.25],[1.3,7.22],[1.05,7.25],[.32,7.2],[.55,7.2],[.65,7.15],[.9,7.2],[1.2,7.2],[1.52,7.18],[1.7,7.22],[2.28,7.18],[1.9,7.13],[.6,7.1],[.77,7.1],[.95,7.08],[1.3,7.05],[.38,7.03],[.62,7.0],[.85,7.05],[1.13,7.02],[1.6,7.0],[1.7,7.0],[2.02,7.0],[.75,6.95],[.72,6.92],[.95,6.9],[1.1,6.95],[1.22,6.92],[2.23,6.92],[2.9,6.88],[1.42,6.85],[.65,6.85],[1.08,6.8],[.5,6.78],[1.7,6.78],[.37,6.78],[1.0,6.75],[1.3,6.75],[1.45,6.72],[.6,6.7],[2.53,6.72],[.24,6.6],[.4,6.6],[.7,6.62],[.9,6.62],[1.5,6.63],[2.22,6.56],[1.55,6.53],[1.65,6.55],[1.75,6.5],[2.3,6.5],[.5,6.55],[1.35,6.55],[1.25,6.5],[.3,6.45],[1.45,6.45],[.45,6.42],[.75,6.4],[1.0,6.42],[2.33,6.42],[.25,6.38],[2.78,6.35],[.65,6.35],[1.55,6.33],[.45,6.3],[.8,6.3],[1.1,6.35],[1.42,6.3],[1.2,6.3],[1.9,6.27],[.38,6.25],[.6,6.25],[.75,6.22],[1.0,6.22],[.45,6.17],[.55,6.15],[1.1,6.13],[2.35,6.1],[2.34,6.05],[1.05,6.05],[.7,6.05],[1.9,6.05],[.3,6.05],[1.65,6.04],[1.42,6.03],[.5,6.0],[.6,6],[.83,6.02],[.28,5.95],[.75,5.93],[1.02,5.92],[1.0,6.0],[1.55,5.92],[1.15,5.9],[1.17,5.87],[1.35,5.83],[.45,5.81],[.72,5.8],[.25,5.73],[.9,5.75],[1.9,5.71],[1.17,5.7],[.82,5.68],[1.03,5.65],[.55,5.62],[.95,5.65],[.65,5.58],[1.3,5.55],[.3,5.55],[.6,5.5],[.85,5.52],[1.03,5.48],[1.17,5.48],[.47,5.47],[1.58,5.44],[1.45,5.39],[2.08,5.39],[.65,5.38],[.23,5.35],[.78,5.35],[.95,5.37],[.58,5.33],[1.0,5.27],[.72,5.17],[1.03,5.12],[.68,5.12],[.37,5.07],[.5,5.09],[.57,5.03],[.47,4.95],[.68,4.92],[.85,4.9],[.59,4.85],[1.24,4.83],[1.29,4.82],[1.13,4.8],[.4,4.45],[.47,4.44],[.92,4.45],[.21,4.4],[.21,4.32],[.3,4.35],[.64,4.15],[.63,4.13],[.3,3.53]];

const ccl2TestPts = [[4.85,10.62],[2.97,10.2],[1.28,9.77],[1.79,9.74],[.56,9.58],[6.05,9.45],[1.08,9.22],[.47,9.07],[1.49,9.05],[.7,8.98],[.68,8.95],[.94,8.94],[3.65,8.92],[7.65,8.92],[3.11,8.87],[7.15,8.81],[1.82,8.8],[1.9,8.85],[2,8.78],[1.36,8.8],[2.94,8.76],[.54,8.72],[1.05,8.65],[1.46,8.67],[1.53,8.64],[.9,8.65],[3.08,8.67],[.11,8.64],[.72,8.55],[.92,8.5],[1.9,8.5],[2.1,8.48],[2.17,8.45],[.85,8.43],[1.22,8.48],[1.43,8.45],[.92,8.38],[1.15,8.35],[1.4,8.3],[.69,8.32],[1.96,8.25],[2.0,8.25],[1.05,8.25],[1.1,8.18],[3.6,8.15],[1.28,8.12],[1.48,8.15],[1.6,8.1],[.63,8.1],[.7,8.05],[2.4,8.08],[2.8,8.08],[3.23,8.08],[1.72,8.1],[.46,8],[.48,7.98],[1.25,7.97],[1.8,8],[1.55,7.98],[.75,7.98],[.85,7.9],[.9,7.87],[1.05,7.85],[.45,7.87],[.55,7.85],[.63,7.85],[1.65,7.85],[1.42,7.82],[3.72,7.78],[2.0,7.75],[1.18,7.75],[.8,7.75],[.6,7.72],[2.4,7.75],[2.47,7.72],[1.75,7.7],[2.12,7.7],[3.83,7.67],[2.95,7.68],[.85,7.65],[.35,7.62],[.42,7.62],[1.3,7.6],[1.8,7.58],[2.33,7.6],[2.83,7.58],[1.95,7.55],[1.0,7.55],[.7,7.5],[.78,7.48],[1.15,7.5],[1.4,7.5],[2.0,7.45],[2.82,7.48],[2.95,7.45],[2.45,7.45],[3.83,7.42],[3.27,7.4],[.6,7.45],[.9,7.42],[1.25,7.42],[.73,7.35],[2.15,7.42],[3.42,7.35],[.2,7.35],[.28,7.33],[.4,7.3],[.47,7.32],[.65,7.3],[.9,7.3],[1.3,7.3],[1.7,7.3],[1.85,7.27],[.95,7.25],[2.22,7.28],[2.75,7.28],[1.1,7.2],[1.42,7.2],[1.6,7.18],[.53,7.15],[.25,7.15],[.7,7.12],[.85,7.12],[2.0,7.15],[1.0,7.1],[3.13,7.08],[3.37,7.13],[1.3,7.05],[1.4,7.02],[1.5,7.0],[2.6,7.0],[2.15,6.97],[1.93,6.97],[.55,7.0],[.7,6.95],[.85,6.95],[1.72,6.9],[.4,6.92],[2.2,6.9],[2.27,6.9],[.65,6.87],[.95,6.87],[1.55,6.83],[.35,6.8],[.55,6.8],[.21,6.74],[.22,6.72],[.38,6.76],[1.65,6.72],[1.0,6.72],[1.15,6.7],[1.4,6.7],[.85,6.68],[.72,6.65],[1.22,6.65],[1.5,6.62],[2.0,6.55],[2.62,6.55],[2.28,6.55],[6.4,6.55],[.92,6.55],[.45,6.52],[.65,6.5],[1.35,6.5],[1.75,6.48],[1.8,6.48],[.55,6.45],[1.0,6.45],[1.15,6.38],[.45,6.35],[.8,6.35],[1.25,6.38],[.62,6.3],[.72,6.28],[.95,6.27],[1.22,6.22],[.55,6.2],[.65,6.2],[.85,6.18],[1.05,6.12],[2.2,6.2],[.3,6.2],[.78,6.13],[1.0,6.1],[1.35,6.07],[1.78,6.05],[2.67,6.13],[.35,6.05],[.38,5.97],[.44,5.95],[.62,5.98],[.9,5.98],[1.25,6],[2.15,6.0],[3.14,5.98],[.17,5.98],[.22,5.97],[1.27,5.92],[1.58,5.87],[1.63,5.84],[.54,5.87],[.58,5.8],[.23,5.75],[.26,5.7],[.33,5.67],[2.23,5.74],[1.3,5.75],[3.9,5.83],[2.99,5.66],[2.28,5.63],[.82,5.72],[.45,5.62],[.75,5.6],[3.4,5.57],[.85,5.57],[1.0,5.55],[.35,5.45],[.53,5.45],[1.1,5.47],[1.88,5.51],[1.6,5.5],[.6,5.38],[.53,5.35],[.77,5.4],[.85,5.45],[1.28,5.38],[.3,5.3],[.45,5.25],[.58,5.3],[.3,5.22],[.35,5.2],[1.2,5.22],[.85,5.22],[1.0,5.2],[.75,5.2],[.9,5.12],[1.37,5.12],[.27,5.07],[.46,5.09],[.73,5.05],[.35,4.95],[.62,4.93],[.52,4.92],[1.33,4.92],[.38,4.82],[.42,4.78],[.68,4.72],[1.65,4.78],[.13,4.65],[.6,4.63],[1.34,4.62],[.63,4.55],[.46,4.37],[.65,4.27],[.34,4.2],[.57,4.08],[.48,3.77],[.3,3.67],[.25,3.57]];

// per panel: gene, R text, p text, fit ends, ci upper, ci lower, points, ci x
const scatterStats = [
  ["EZH2", "= \u22120.19", "= 0.00028", [5.385,4.505], [5.46,5.33,5.2,5.03,4.91], [5.28,5.2,5.08,4.68,4.09], ezh2TrainPts, trainCiX],
  ["EZH2", "= \u22120.13", "= 0.005", [5.24,4.61], [5.335,5.22,5.18,5.12,5.06], [5.13,5.1,5.01,4.77,4.17], ezh2TestPts, testCiX],
  ["EDNRB", "= 0.30", "= 8.1e\u221213", [4.166,5.617], [4.28,4.385,4.665,5.22,6.01], [4.07,4.27,4.51,4.84,5.23], ednrbTrainPts, trainCiX],
  ["EDNRB", "= 0.32", "= 1.8e\u221211", [4.233,5.459], [4.306,4.44,4.59,5.03,5.82], [4.157,4.31,4.455,4.79,5.09], ednrbTestPts, testCiX],
  ["CCL21", "= 0.23", "= 5.4e\u221208", [5.89,7.8], [6.15,6.37,6.73,7.57,8.86], [5.65,6.04,6.29,6.55,6.72], ccl21TrainPts, trainCiX],
  ["CCL21", "= 0.24", "= 2.7e\u221207", [5.97,8.37], [6.2,6.38,6.77,7.7,9.41], [5.73,6.07,6.35,6.68,7.3], ccl21TestPts, testCiX],
  ["CCL19", "= 0.27", "= 9.9e\u221208", [5.3,7.84], [5.57,5.78,6.29,7.57,9.0], [5.06,5.43,5.75,6.26,6.66], ccl19TrainPts, trainCiX],
  ["CCL19", "= 0.26", "= 4.3e\u221208", [5.4,7.5], [5.65,5.73,6.12,7.14,8.64], [5.14,5.41,5.73,6.04,6.33], ccl19TestPts, testCiX],
  ["CCL2", "= 0.4", "< 2.2e\u221216", [6.42,9.5], [6.64,6.91,7.48,8.6,10.2], [6.22,6.67,7.09,7.85,8.82], ccl2TrainPts, trainCiX],
  ["CCL2", "= 0.42", "< 2.2e\u221216", [6.43,9.76], [6.585,6.89,7.355,8.48,10.42], [6.27,6.67,7.02,7.82,9.08], ccl2TestPts, testCiX]
];

// [whisker low, q1, median, q3, whisker high, outliers]
const boxStats = [
  ["EZH2", "0.012", 6.85, [3.27,7.02], [4,5,6,7], [[4.03,5.01,5.37,5.72,6.57,[3.8,3.72]], [3.44,4.7,5.17,5.66,6.68,[]]]],
  ["EZH2", "0.012", 7.6, [3.007,7.83], [4,5,6,7], [[3.34,4.79,5.23,5.745,6.86,[3.22,7.4]], [3.39,4.59,5.02,5.455,6.57,[7.22,7.05,6.8]]]],
  ["EDNRB", "1.4e\u221208", 6.07, [2.915,6.23], [3,4,5,6], [[3.07,3.7,4.16,4.645,5.87,[]], [3.44,4.21,4.545,4.915,5.92,[]]]],
  ["EDNRB", "7.1e\u221209", 7.57, [2.96,7.81], [3,4,5,6,7], [[3.19,3.92,4.17,4.56,5.37,[7.38,6.81,6.35,6.05,5.95,5.85]], [3.44,4.15,4.44,4.9,5.98,[7.08,6.27]]]],
  ["CCL21", "0.0001", 12.4, [2.13,12.87], [2.5,5,7.5,10,12.5], [[2.66,4.64,5.98,6.99,9.62,[11.97,11.83]], [2.66,5.61,6.72,7.64,9.85,[]]]],
  ["CCL21", "5.7e\u221205", 11.9, [2.69,12.31], [5,7.5,10], [[3.15,4.59,5.87,7.29,11.0,[11.45]], [3.3,5.45,6.47,7.7,10.55,[]]]],
  ["CCL19", "6.8e\u221205", 11.75, [2.72,12.15], [5,7.5,10], [[3.1,3.94,4.92,6.42,9.92,[11.4,11.0,10.7]], [3.2,4.35,6.02,7.42,10.7,[]]]],
  ["CCL19", "5.4e\u221206", 11.39, [2.58,11.79], [5,7.5,10], [[2.94,3.93,4.92,6.59,10.3,[10.67]], [2.94,4.68,5.91,7.5,11.0,[]]]],
  ["CCL2", "4.4e\u221211", 11.6, [3.22,12.0], [5,7.5,10], [[4.2,5.83,6.63,7.27,8.86,[9.92,9.5,3.56]], [4.85,6.55,7.27,7.92,9.7,[11.2]]]],
  ["CCL2", "7.6e\u221214", 10.92, [3.153,11.28], [5,7,9,11], [[3.52,5.75,6.58,7.31,9.58,[]], [4.85,6.7,7.41,8.06,9.72,[10.56,10.15,4.63]]]]
];

// pixel layout, kept apart from the values above
const scatterLayout = [
  { left: 80, right: 990, top: 15, bottom: 783, xDomain: [-0.115,7.02], yDomain: [3.274,6.843], xTicks: [0,2,4,6], yTicks: [4,5,6], titleX: 27, noteX: 121, noteY: 70 },
  { left: 2092, right: 3000, top: 15, bottom: 783, xDomain: [-0.255,8.01], yDomain: [3.016,7.58], xTicks: [0,2,4,6,8], yTicks: [4,5,6,7], titleX: 2040, noteX: 2133, noteY: 70 },
  { left: 80, right: 990, top: 879, bottom: 1650, xDomain: [-0.115,7.02], yDomain: [2.9,6.16], xTicks: [0,2,4,6], yTicks: [3,4,5,6], titleX: 27, noteX: 121, noteY: 954 },
  { left: 2092, right: 3000, top: 879, bottom: 1650, xDomain: [-0.255,8.01], yDomain: [2.947,7.6], xTicks: [0,2,4,6,8], yTicks: [3,4,5,6,7], titleX: 2040, noteX: 2133, noteY: 935 },
  { left: 115, right: 990, top: 1745, bottom: 2515, xDomain: [-0.115,7.026], yDomain: [2.194,12.44], xTicks: [0,2,4,6], yTicks: [2.5,5,7.5,10], titleX: 27, noteX: 155, noteY: 1801 },
  { left: 2128, right: 3000, top: 1745, bottom: 2515, xDomain: [-0.254,8.0], yDomain: [2.7,11.89], xTicks: [0,2,4,6,8], yTicks: [5,7.5,10], titleX: 2040, noteX: 2167, noteY: 1801 },
  { left: 115, right: 990, top: 2612, bottom: 3381, xDomain: [-0.115,7.026], yDomain: [2.756,11.73], xTicks: [0,2,4,6], yTicks: [5,7.5,10], titleX: 27, noteX: 155, noteY: 2668 },
  { left: 2128, right: 3000, top: 2612, bottom: 3381, xDomain: [-0.254,8.0], yDomain: [2.569,11.38], xTicks: [0,2,4,6,8], yTicks: [5,7.5,10], titleX: 2040, noteX: 2167, noteY: 2668 },
  { left: 94, right: 990, top: 3479, bottom: 4248, xDomain: [-0.106,7.0], yDomain: [3.164,11.61], xTicks: [0,2,4,6], yTicks: [4,6,8,10], titleX: 27, noteX: 135, noteY: 3535 },
  { left: 2093, right: 3007, top: 3479, bottom: 4248, xDomain: [-0.26,8.03], yDomain: [3.184,10.9], xTicks: [0,2,4,6,8], yTicks: [5,7,9], titleX: 2040, noteX: 2134, noteY: 3535 }
];

const boxLayout = [
  { axisX: 1097, right: 1995, top: 125, bottom: 767, lowX: 1341, highX: 1750, boxW: 326, titleX: 1035, legendX: 1385, legendY: 55, yFormat: "d" },
  { axisX: 3106, right: 4004, top: 125, bottom: 767, lowX: 3350, highX: 3757, boxW: 326, titleX: 3045, legendX: 3395, legendY: 55, yFormat: "d" },
  { axisX: 1097, right: 1995, top: 990, bottom: 1632, lowX: 1341, highX: 1750, boxW: 326, titleX: 1035, legendX: 1385, legendY: 922, yFormat: "d" },
  { axisX: 3106, right: 4004, top: 990, bottom: 1632, lowX: 3350, highX: 3757, boxW: 326, titleX: 3045, legendX: 3395, legendY: 922, yFormat: "d" },
  { axisX: 1141, right: 1994, top: 1857, bottom: 2498, lowX: 1375, highX: 1760, boxW: 311, titleX: 1037, legendX: 1406, legendY: 1786, yFormat: ".1f" },
  { axisX: 3152, right: 4002, top: 1857, bottom: 2498, lowX: 3383, highX: 3771, boxW: 311, titleX: 3048, legendX: 3417, legendY: 1786, yFormat: ".1f" },
  { axisX: 1141, right: 1994, top: 2724, bottom: 3362, lowX: 1375, highX: 1760, boxW: 311, titleX: 1037, legendX: 1406, legendY: 2652, yFormat: ".1f" },
  { axisX: 3152, right: 4002, top: 2724, bottom: 3362, lowX: 3383, highX: 3771, boxW: 311, titleX: 3048, legendX: 3417, legendY: 2652, yFormat: ".1f" },
  { axisX: 1133, right: 1994, top: 3588, bottom: 4230, lowX: 1370, highX: 1760, boxW: 313, titleX: 1029, legendX: 1404, legendY: 3521, yFormat: ".1f" },
  { axisX: 3133, right: 4009, top: 3591, bottom: 4233, lowX: 3371, highX: 3771, boxW: 319, titleX: 3052, legendX: 3411, legendY: 3521, yFormat: "d" }
];

const svg = d3.select("#fig");

function midpoints(ticks, domain) {
  const step = ticks.length > 1 ? ticks[1] - ticks[0] : 1;
  const out = [];
  for (let v = ticks[0] - step / 2; v <= domain[1]; v += step) {
    if (v >= domain[0]) out.push(v);
  }
  return out;
}

function drawScatter(layout, stats) {
  const [gene, rText, pText, fit, ciUpper, ciLower, pts, ciX] = stats;
  const g = svg.append("g");
  const x = d3.scaleLinear().domain(layout.xDomain).range([layout.left, layout.right]);
  const y = d3.scaleLinear().domain(layout.yDomain).range([layout.bottom, layout.top]);

  // grid
  g.selectAll(".minorV").data(midpoints(layout.xTicks, layout.xDomain)).join("line")
    .attr("x1", d => x(d)).attr("x2", d => x(d)).attr("y1", layout.top).attr("y2", layout.bottom)
    .attr("stroke", "#f2f2f2").attr("stroke-width", 1.5);
  g.selectAll(".minorH").data(midpoints(layout.yTicks, layout.yDomain)).join("line")
    .attr("x1", layout.left).attr("x2", layout.right).attr("y1", d => y(d)).attr("y2", d => y(d))
    .attr("stroke", "#f2f2f2").attr("stroke-width", 1.5);
  g.selectAll(".majorV").data(layout.xTicks).join("line")
    .attr("x1", d => x(d)).attr("x2", d => x(d)).attr("y1", layout.top).attr("y2", layout.bottom)
    .attr("stroke", "#ebebeb").attr("stroke-width", 3);
  g.selectAll(".majorH").data(layout.yTicks).join("line")
    .attr("x1", layout.left).attr("x2", layout.right).attr("y1", d => y(d)).attr("y2", d => y(d))
    .attr("stroke", "#ebebeb").attr("stroke-width", 3);

  g.append("g").selectAll("circle").data(pts).join("circle")
    .attr("cx", d => x(d[0])).attr("cy", d => y(d[1])).attr("r", 6.8).attr("fill", "#000");

  const area = d3.area().x(d => x(d[0])).y0(d => y(d[1])).y1(d => y(d[2])).curve(d3.curveMonotoneX);
  g.append("path").attr("d", area(ciX.map((v, i) => [v, ciLower[i], ciUpper[i]])))
    .attr("fill", "#999").attr("fill-opacity", 0.4);

  const xEnds = [ciX[0], ciX[ciX.length - 1]];
  g.append("line")
    .attr("x1", x(xEnds[0])).attr("y1", y(fit[0])).attr("x2", x(xEnds[1])).attr("y2", y(fit[1]))
    .attr("stroke", "#1a5cff").attr("stroke-width", 5.5);

  g.append("rect").attr("x", layout.left).attr("y", layout.top)
    .attr("width", layout.right - layout.left).attr("height", layout.bottom - layout.top)
    .attr("fill", "none").attr("stroke", "#808080").attr("stroke-width", 3.5);

  const xAxis = g.append("g").attr("transform", `translate(0,${layout.bottom})`)
    .call(d3.axisBottom(x).tickValues(layout.xTicks).tickFormat(d3.format("d")).tickSize(6).tickPadding(8));
  const yAxis = g.append("g").attr("transform", `translate(${layout.left},0)`)
    .call(d3.axisLeft(y).tickValues(layout.yTicks).tickFormat(d3.format(layout.yTicks.includes(7.5) ? ".1f" : "d")).tickSize(6).tickPadding(6));
  [xAxis, yAxis].forEach(a => {
    a.select(".domain").remove();
    a.selectAll("line").attr("stroke", "#333").attr("stroke-width", 2.5);
    a.selectAll("text").attr("font-size", 26).attr("fill", "#4d4d4d");
  });

  // last row sits close to the page bottom
  const titleGap = layout.bottom > 4000 ? 56 : 65;
  g.append("text").attr("x", (layout.left + layout.right) / 2).attr("y", layout.bottom + titleGap)
    .attr("text-anchor", "middle").attr("font-size", 30).text("Risk score");
  g.append("text")
    .attr("transform", `translate(${layout.titleX},${(layout.top + layout.bottom) / 2}) rotate(-90)`)
    .attr("text-anchor", "middle").attr("dominant-baseline", "central").attr("font-size", 27)
    .text(gene + " expression");

  const note = g.append("text").attr("x", layout.noteX).attr("y", layout.noteY)
    .attr("dominant-baseline", "central").attr("font-size", 31);
  note.append("tspan").attr("font-style", "italic").text("R");
  note.append("tspan").text(" " + rText + ", ");
  note.append("tspan").attr("font-style", "italic").text("p");
  note.append("tspan").text(" " + pText);
}

function drawBox(layout, stats) {
  const [gene, pLabel, bracketY, yDomain, yTicks, boxes] = stats;
  const g = svg.append("g");
  const x = d3.scalePoint().domain(riskLabels).range([layout.lowX, layout.highX]);
  const y = d3.scaleLinear().domain(yDomain).range([layout.bottom, layout.top]);
  const fills = d3.scaleOrdinal().domain(riskLabels).range(["#00ff00", "#ff0000"]);

  riskLabels.forEach((risk, i) => {
    const [wLo, q1, med, q3, wHi, outliers] = boxes[i];
    const cx = x(risk);
    g.append("line").attr("x1", cx).attr("x2", cx).attr("y1", y(wLo)).attr("y2", y(wHi))
      .attr("stroke", "#000").attr("stroke-width", 4);
    g.append("rect").attr("x", cx - layout.boxW / 2).attr("width", layout.boxW)
      .attr("y", y(q3)).attr("height", y(q1) - y(q3))
      .attr("fill", fills(risk)).attr("stroke", "#111").attr("stroke-width", 3.5);
    g.append("line").attr("x1", cx - layout.boxW / 2).attr("x2", cx + layout.boxW / 2)
      .attr("y1", y(med)).attr("y2", y(med)).attr("stroke", "#000").attr("stroke-width", 7.5);
    g.selectAll(null).data(outliers).join("circle")
      .attr("cx", cx).attr("cy", d => y(d)).attr("r", 6.5).attr("fill", "#000");
  });

  // significance bracket
  const by = y(bracketY);
  g.append("path")
    .attr("d", `M${x("low")},${by + 18}V${by}H${x("high")}V${by + 18}`)
    .attr("fill", "none").attr("stroke", "#444").attr("stroke-width", 2.5);
  g.append("text").attr("x", (x("low") + x("high")) / 2).attr("y", by - 17)
    .attr("text-anchor", "middle").attr("dominant-baseline", "central").attr("font-size", 31).text(pLabel);

  const xAxis = g.append("g").attr("transform", `translate(0,${layout.bottom})`)
    .call(d3.axisBottom(x).tickSize(8).tickPadding(9));
  const yAxis = g.append("g").attr("transform", `translate(${layout.axisX},0)`)
    .call(d3.axisLeft(y).tickValues(yTicks).tickFormat(d3.format(layout.yFormat)).tickSize(8).tickPadding(7));
  [xAxis, yAxis].forEach(a => {
    a.select(".domain").remove();
    a.selectAll("line").attr("stroke", "#000").attr("stroke-width", 3);
    a.selectAll("text").attr("font-size", 34).attr("fill", "#000");
  });
  g.append("path")
    .attr("d", `M${layout.axisX},${layout.top}V${layout.bottom}H${layout.right}`)
    .attr("fill", "none").attr("stroke", "#000").attr("stroke-width", 3.5);

  g.append("text").attr("x", (layout.axisX + layout.right) / 2).attr("y", layout.bottom + 67)
    .attr("text-anchor", "middle").attr("dominant-baseline", "central").attr("font-size", 32).text("Risk");
  g.append("text")
    .attr("transform", `translate(${layout.titleX},${(layout.top + layout.bottom) / 2}) rotate(-90)`)
    .attr("text-anchor", "middle").attr("dominant-baseline", "central").attr("font-size", 30)
    .text(gene + " expression");

  // legend
  const lg = g.append("g").attr("transform", `translate(${layout.legendX},${layout.legendY})`);
  lg.append("text").attr("dominant-baseline", "central").attr("font-size", 33).text("Risk");
  riskLabels.forEach((risk, i) => {
    const sx = 88 + i * 123;
    lg.append("line").attr("x1", sx + 18).attr("x2", sx + 18).attr("y1", -19).attr("y2", 19)
      .attr("stroke", "#000").attr("stroke-width", 2.5);
    lg.append("rect").attr("x", sx).attr("y", -12.5).attr("width", 36).attr("height", 25)
      .attr("fill", fills(risk)).attr("stroke", "#111").attr("stroke-width", 3);
    lg.append("line").attr("x1", sx).attr("x2", sx + 36).attr("y1", 0).attr("y2", 0)
      .attr("stroke", "#000").attr("stroke-width", 3);
    lg.append("text").attr("x", sx + 59 - (i ? 1 : 0)).attr("dominant-baseline", "central")
      .attr("font-size", 27).text(risk);
  });
}

scatterStats.forEach((s, i) => drawScatter(scatterLayout[i], s));
boxStats.forEach((s, i) => drawBox(boxLayout[i], s));
</script>
</body>
</html>
